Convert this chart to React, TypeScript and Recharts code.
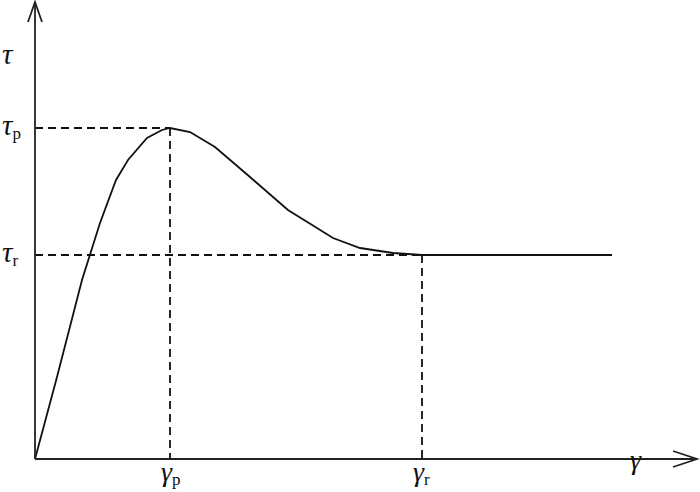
import React from 'react';
import { LineChart, Line, XAxis, YAxis, ReferenceLine, ReferenceDot } from 'recharts';

// shear strain (x) and shear stress (y)
const strain = [0, 22, 47, 65, 81, 93, 112, 127, 135, 155, 180, 215, 253, 298, 325, 358, 387, 577];
const stress = [0, 82, 179, 236, 279, 299, 321, 329, 331, 327, 312, 282, 249, 221, 211, 206, 204, 204];

const gammaP = 135;
const gammaR = 387;
const tauP = 331;
const tauR = 204;

const xTicks = [gammaP, gammaR, 604];
const xTickLabels = [
  { main: 'γ', sub: 'p' },
  { main: 'γ', sub: 'r' },
  { main: 'γ', sub: '' },
];
const yTicks = [402, tauP, tauR];
const yTickLabels = [
  { main: 'τ', sub: '' },
  { main: 'τ', sub: 'p' },
  { main: 'τ', sub: 'r' },
];

const data = strain.map((x, i) => ({ x, y: stress[i] }));

const font = '"Liberation Serif", "Times New Roman", serif';
const dash = '8 5';

function XTick(props: any) {
  const { x, y, payload } = props;
  const i = xTicks.indexOf(payload.value);
  const lab = xTickLabels[i] || { main: '', sub: '' };
  const plain = lab.sub === '';
  return (
    <text x={x - 9} y={plain ? y + 2 : y + 14} style={{ fontFamily: font }} fontSize={28} fill="#111">
      <tspan fontStyle="italic">{lab.main}</tspan>
      {lab.sub && <tspan fontSize={17} dy={4}>{lab.sub}</tspan>}
    </text>
  );
}

function YTick(props: any) {
  const { y, payload } = props;
  const i = yTicks.indexOf(payload.value);
  const lab = yTickLabels[i] || { main: '', sub: '' };
  return (
    <text x={2} y={y + 7} style={{ fontFamily: font }} fontSize={29} fill="#111">
      <tspan fontStyle="italic">{lab.main}</tspan>
      {lab.sub && <tspan fontSize={17} dy={4} fontStyle="normal">{lab.sub}</tspan>}
    </text>
  );
}

const XArrow = (props: any) => (
  <polyline
    points={`${props.cx - 24},${props.cy - 8} ${props.cx},${props.cy} ${props.cx - 24},${props.cy + 8}`}
    fill="none"
    stroke="#222"
    strokeWidth={1.8}
  />
);

const YArrow = (props: any) => (
  <polyline
    points={`${props.cx - 7},${props.cy + 20} ${props.cx},${props.cy} ${props.cx + 7},${props.cy + 20}`}
    fill="none"
    stroke="#222"
    strokeWidth={1.8}
  />
);

export default function App() {
  return (
    <div style={{ position: 'absolute', left: 0, top: 0, background: '#fff' }}>
      <LineChart width={700} height={492} data={data} margin={{ top: 2, right: 3, bottom: 0, left: 0 }}>
        <XAxis
          dataKey="x"
          type="number"
          domain={[0, 662]}
          ticks={xTicks}
          tick={<XTick />}
          tickLine={false}
          axisLine={{ stroke: '#222', strokeWidth: 1.8 }}
          height={33}
          interval={0}
        />
        <YAxis
          type="number"
          domain={[0, 457]}
          ticks={yTicks}
          tick={<YTick />}
          tickLine={false}
          axisLine={{ stroke: '#222', strokeWidth: 1.8 }}
          width={35}
          interval={0}
        />
        <ReferenceLine segment={[{ x: 0, y: tauP }, { x: gammaP, y: tauP }]} stroke="#111" strokeWidth={1.8} strokeDasharray={dash} />
        <ReferenceLine segment={[{ x: gammaP, y: tauP }, { x: gammaP, y: 0 }]} stroke="#111" strokeWidth={1.8} strokeDasharray={dash} />
        <ReferenceLine segment={[{ x: 0, y: tauR }, { x: gammaR, y: tauR }]} stroke="#111" strokeWidth={1.8} strokeDasharray={dash} />
        <ReferenceLine segment={[{ x: gammaR, y: tauR }, { x: gammaR, y: 0 }]} stroke="#111" strokeWidth={1.8} strokeDasharray={dash} />
        <Line type="linear" dataKey="y" stroke="#111" strokeWidth={1.8} dot={false} isAnimationActive={false} />
        <ReferenceDot x={662} y={0} r={0} shape={<XArrow />} ifOverflow="visible" />
        <ReferenceDot x={0} y={457} r={0} shape={<YArrow />} ifOverflow="visible" />
      </LineChart>
    </div>
  );
}
